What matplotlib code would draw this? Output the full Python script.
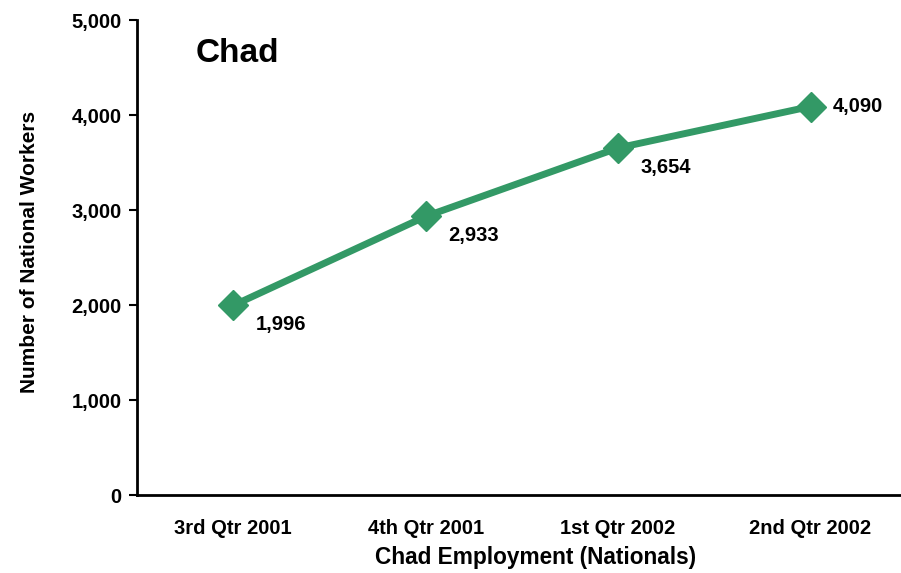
import matplotlib
matplotlib.use("Agg")
import matplotlib.pyplot as plt
from matplotlib.ticker import FuncFormatter

plt.rcParams["font.family"] = ["Liberation Sans", "DejaVu Sans"]
plt.rcParams["font.weight"] = "bold"

# data
quarters = ["3rd Qtr 2001", "4th Qtr 2001", "1st Qtr 2002", "2nd Qtr 2002"]
workers = [1996, 2933, 3654, 4090]
y_ticks = [0, 1000, 2000, 3000, 4000, 5000]

GREEN = "#339966"

fig = plt.figure(figsize=(9.01, 5.73), dpi=100)
ax = fig.add_axes([0.152, 0.136, 0.848, 0.829])

x = list(range(len(quarters)))
ax.plot(x, workers, color=GREEN, lw=5, marker="D", markersize=15,
        solid_capstyle="butt", clip_on=False, zorder=3)

# value labels: first three below-right, last one to the right
for i, v in enumerate(workers):
    dy = -14 if i < len(workers) - 1 else 0
    ax.annotate(f"{v:,}", (i, v), xytext=(16, dy), textcoords="offset points",
                ha="left", va="center", fontsize=14.5, fontweight="bold")

ax.text(0.077, 0.93, "Chad", transform=ax.transAxes, fontsize=24,
        fontweight="bold", ha="left", va="center")

ax.set_xlim(-0.5, 3.47)
ax.set_ylim(0, 5000)
ax.set_yticks(y_ticks)
ax.yaxis.set_major_formatter(FuncFormatter(lambda v, _: f"{int(v):,}"))
ax.set_xticks(x)
ax.set_xticklabels(quarters)

ax.tick_params(axis="y", direction="out", length=6, width=1.5, pad=5,
               labelsize=14.5)
ax.tick_params(axis="x", length=0, pad=17, labelsize=14.5)

for side in ("top", "right"):
    ax.spines[side].set_visible(False)
for side in ("left", "bottom"):
    ax.spines[side].set_linewidth(2)

ax.set_xlabel("Chad Employment (Nationals)", fontsize=16.3, fontweight="bold",
              labelpad=6, x=0.522)
ax.set_ylabel("Number of National Workers", fontsize=15, fontweight="bold",
              labelpad=23, y=0.512)

fig.savefig("out.png", dpi=100)
